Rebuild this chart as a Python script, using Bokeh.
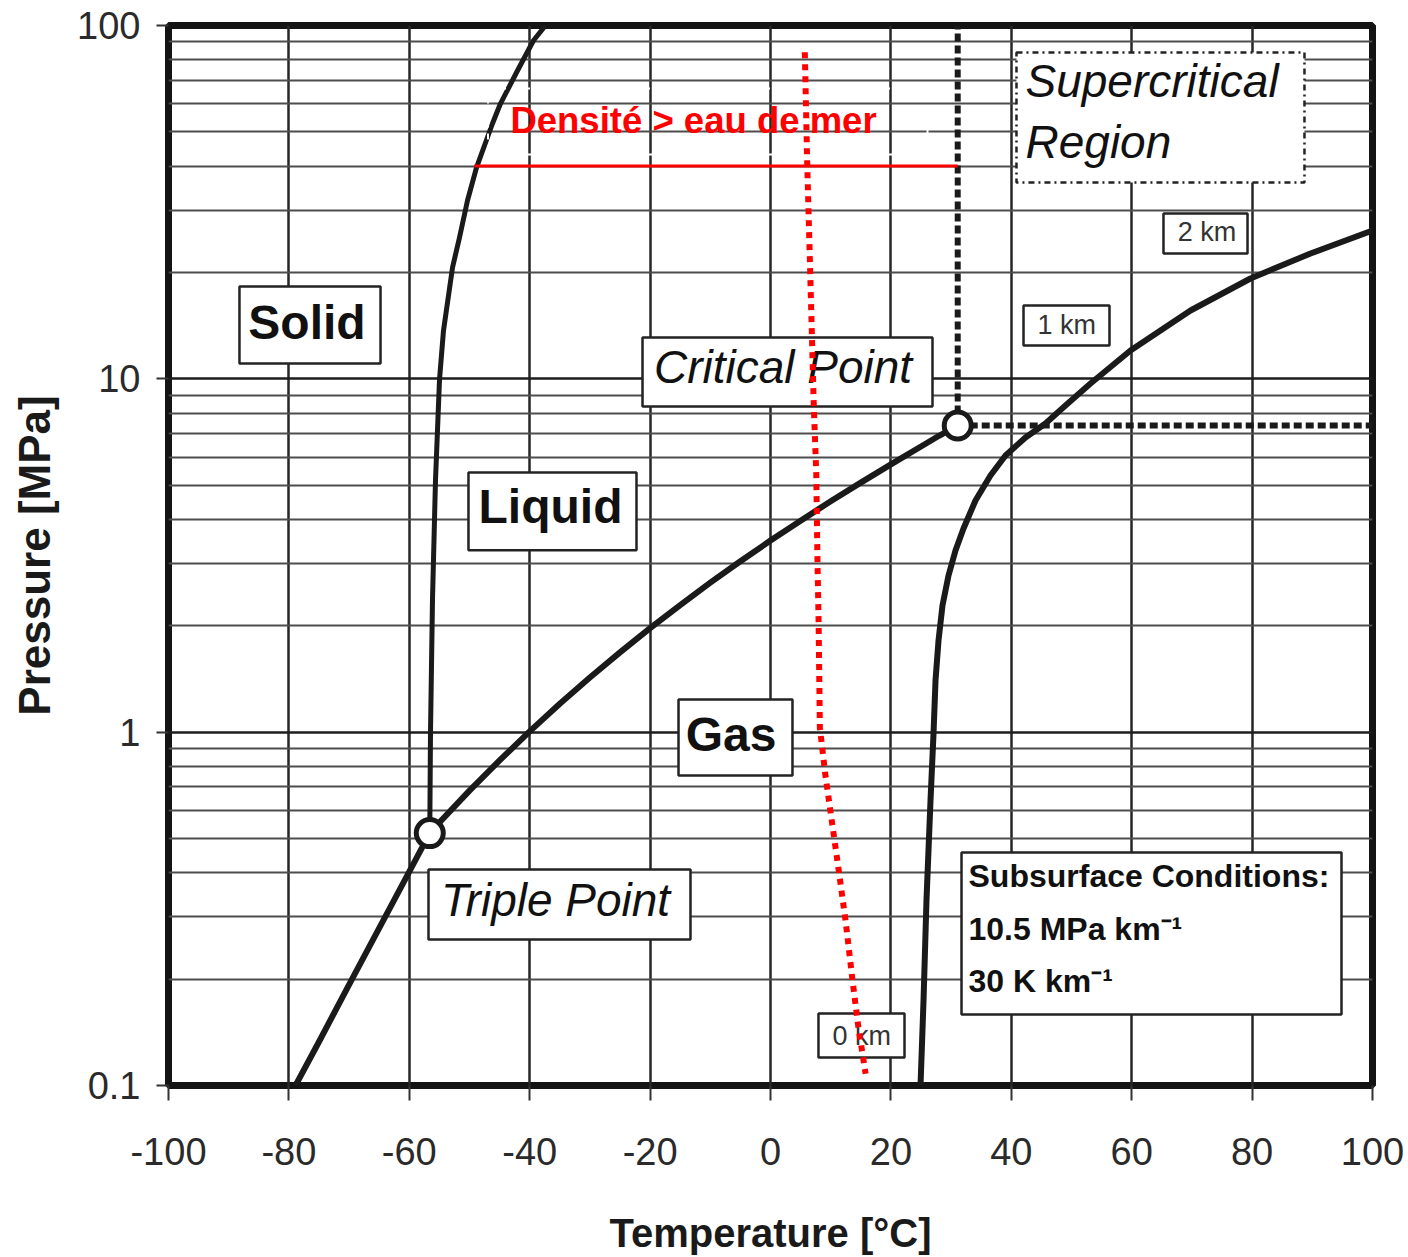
from bokeh.plotting import figure
from bokeh.models import Range1d, FixedTicker, Label, BoxAnnotation, CustomJSTickFormatter
from bokeh.embed import file_html
from bokeh.resources import INLINE

# ---------------- data ----------------
x_ticks = [-100, -80, -60, -40, -20, 0, 20, 40, 60, 80, 100]
y_ticks = [0.1, 1, 10, 100]
y_minor = [0.2, 0.3, 0.4, 0.5, 0.6, 0.7, 0.8, 0.9,
           2, 3, 4, 5, 6, 7, 8, 9,
           20, 30, 40, 50, 60, 70, 80, 90]

# sublimation curve (solid / gas)
sub_T = [-78.9, -75, -70, -65, -60, -56.6]
sub_P = [0.1, 0.133, 0.193, 0.279, 0.403, 0.518]
# vaporisation curve (liquid / gas)
vap_T = [-56.6, -55, -50, -45, -40, -35, -30, -25, -20, -15, -10, -5, 0, 5, 10, 15, 20, 25, 28, 31.1]
vap_P = [0.518, 0.555, 0.683, 0.832, 1.005, 1.203, 1.428, 1.682, 1.969, 2.289, 2.649, 3.046,
         3.485, 3.969, 4.502, 5.086, 5.729, 6.434, 6.9, 7.38]
# melting curve (solid / liquid)
melt_T = [-56.6, -56.48, -56.15, -55.65, -54.98, -54.32, -52.82, -51.66, -50.33, -48.84,
          -46.18, -44.85, -42.19, -39.37, -37.38]
melt_P = [0.518, 0.991, 2.36, 5.155, 9.96, 13.70, 20.66, 25.12, 31.97, 39.63,
          52.80, 60.14, 73.62, 90.70, 100]
# subsurface path (0 km -> 2 km)
geo_T = [24.92, 25.42, 25.91, 26.58, 27.08, 27.41, 27.91, 28.57, 29.57, 30.73, 32.06, 34.05,
         36.54, 39.04, 42.36, 45.68, 49.00, 53.16, 59.80, 69.77, 79.73, 89.70, 100.0]
geo_P = [0.1, 0.174, 0.334, 0.641, 0.991, 1.40, 1.817, 2.283, 2.776, 3.267, 3.77, 4.525,
         5.325, 6.067, 6.823, 7.474, 8.40, 9.70, 12.03, 15.61, 19.23, 22.63, 26.29]
# red dotted curve
red_T = [5.7, 6.1, 6.6, 7.2, 7.6, 7.8, 8.0, 8.2, 9.1, 10.0, 11.3, 12.5, 13.6, 14.6, 15.8]
red_P = [84, 40.7, 19.9, 8.3, 5.4, 3.1, 2.0, 1.03, 0.76, 0.59, 0.41, 0.29, 0.20, 0.146, 0.108]
# special points
crit_T, crit_P = 31.1, 7.38
triple_T, triple_P = -56.6, 0.518
# density > sea water line
dens_P = 40
dens_T = [-49.2, crit_T]

T_min, T_max = -100, 100
P_min, P_max = 0.1, 100

# ---------------- figure ----------------
p = figure(width=1408, height=1257,
           x_range=Range1d(T_min, T_max), y_range=Range1d(P_min, P_max),
           y_axis_type="log", output_backend="svg", toolbar_location=None,
           min_border_left=168, min_border_right=36, min_border_top=25,
           min_border_bottom=172)
p.background_fill_color = "white"
p.border_fill_color = "white"
p.outline_line_color = "#141414"
p.outline_line_width = 7

FONT = "Liberation Sans"
for ax in (p.xaxis[0], p.yaxis[0]):
    ax.axis_line_color = None
    ax.major_tick_in = 0
    ax.major_tick_line_width = 2
    ax.major_tick_line_color = "#333333"
    ax.minor_tick_line_color = None
    ax.major_label_text_font = FONT
    ax.major_label_text_font_size = "38px"
    ax.major_label_text_color = "#2a2a2a"
    ax.axis_label_text_font = FONT
    ax.axis_label_text_font_style = "bold"
    ax.axis_label_text_color = "#1a1a1a"
    ax.formatter = CustomJSTickFormatter(code="return tick.toString();")

p.xaxis.ticker = FixedTicker(ticks=x_ticks)
p.xaxis.major_tick_out = 15
p.xaxis.major_label_standoff = 37
p.xaxis.axis_label = "Temperature [°C]"
p.xaxis.axis_label_text_font_size = "40px"
p.xaxis.axis_label_standoff = 43

p.yaxis.ticker = FixedTicker(ticks=y_ticks)
p.yaxis.major_tick_out = 12
p.yaxis.major_label_standoff = 16
p.yaxis.axis_label = "Pressure [MPa]"
p.yaxis.axis_label_text_font_size = "44px"
p.yaxis.axis_label_standoff = 15

p.xgrid.ticker = FixedTicker(ticks=x_ticks[1:-1])
p.xgrid.grid_line_color = "#262626"
p.xgrid.grid_line_width = 2.5
p.ygrid.ticker = FixedTicker(ticks=y_ticks[1:-1], minor_ticks=y_minor)
p.ygrid.grid_line_color = "#1e1e1e"
p.ygrid.grid_line_width = 2.5
p.ygrid.minor_grid_line_color = "#4d4d4d"
p.ygrid.minor_grid_line_width = 2

# ---------------- curves ----------------
CURVE = "#1a1a1a"
p.line(sub_T, sub_P, line_color=CURVE, line_width=6, line_join="round")
p.line(vap_T, vap_P, line_color=CURVE, line_width=6, line_join="round")
p.line(melt_T, melt_P, line_color=CURVE, line_width=5, line_join="round")
p.line(geo_T, geo_P, line_color=CURVE, line_width=6, line_join="round")
p.line([crit_T, crit_T], [crit_P, P_max], line_color=CURVE, line_width=6, line_dash="8 4")
p.line([crit_T, T_max], [crit_P, crit_P], line_color=CURVE, line_width=6, line_dash="8 4")
p.line(dens_T, [dens_P, dens_P], line_color="#ff0000", line_width=3)

# ---------------- boxes ----------------
def box(l, r, t, b, dash="solid", fill="white", color="#232323", width=2.5):
    p.add_layout(BoxAnnotation(left=l, right=r, top=t, bottom=b,
                               fill_color=fill, fill_alpha=1 if fill else 0,
                               line_color=color, line_alpha=1,
                               line_width=width, line_dash=dash))

box(-88.21, -64.78, 18.25, 11.05)            # Solid
box(-50.17, -22.26, 5.43, 3.27)              # Liquid
box(-15.28, 3.65, 1.237, 0.754)              # Gas
box(-21.26, 26.91, 13.09, 8.35)              # Critical Point
box(-56.81, -13.29, 0.4088, 0.2589)          # Triple Point
box(40.86, 88.70, 83.86, 35.95, dash="dashdot")   # Supercritical
box(65.28, 79.24, 29.37, 22.63)              # 2 km
box(42.03, 56.31, 16.13, 12.43)              # 1 km
box(7.97, 22.26, 0.1600, 0.1200)             # 0 km
box(31.73, 94.85, 0.4565, 0.1589)            # Subsurface
box(-46.93, 26.08, 66.31, 43.14, dash="dashed", fill=None, color="white", width=2)

# ---------------- labels ----------------
def label(x, y, text, size, style="normal", color="#111111", align="center"):
    p.add_layout(Label(x=x, y=y, text=text, text_font=FONT,
                       text_font_size=size, text_font_style=style,
                       text_color=color, text_align=align, text_baseline="middle"))

label(-76.99, 14.47, "Solid", "48px", "bold")
label(-36.54, 4.36, "Liquid", "48px", "bold")
label(-6.56, 0.985, "Gas", "48px", "bold")
label(2.08, 10.79, "Critical Point", "46px", "italic")
label(-35.71, 0.3339, "Triple Point", "46px", "italic")
label(42.36, 69.5, "Supercritical", "46px", "italic", align="left")
label(42.36, 46.73, "Region", "46px", "italic", align="left")
label(72.51, 26.0, "2 km", "27px", color="#333333")
label(49.2, 14.21, "1 km", "27px", color="#333333")
label(15.17, 0.1385, "0 km", "27px", color="#333333")
label(32.89, 0.3928, "Subsurface Conditions:", "32px", "bold", align="left")
label(32.89, 0.2764, "10.5 MPa km⁻¹", "32px", "bold", align="left")
label(32.89, 0.197, "30 K km⁻¹", "32px", "bold", align="left")
label(-12.79, 53.67, "Densité > eau de mer", "36.5px", "bold", color="#ff0000")

# ---------------- overlay marks ----------------
p.line(red_T, red_P, line_color="#ff0000", line_width=6, line_dash="6 6", level="overlay")
p.scatter([crit_T, triple_T], [crit_P, triple_P], marker="circle", size=27,
          fill_color="white", line_color=CURVE, line_width=5, level="overlay")

open("out.html", "w").write(file_html(p, INLINE))
